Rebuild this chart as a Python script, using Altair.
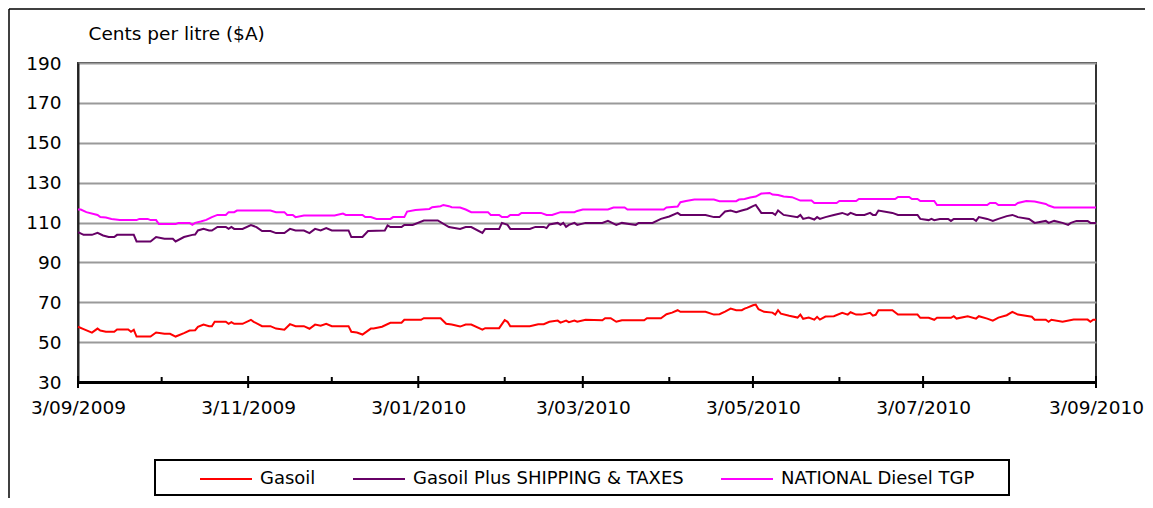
import altair as alt
import pandas as pd

START = "2009-09-03"
series_names = ["Gasoil", "Gasoil Plus SHIPPING & TAXES", "NATIONAL Diesel TGP"]
series_colors = ["#ff0000", "#660066", "#ff00ff"]

# day offsets from 3/09/2009 and values (cents per litre)
gasoil_day = [0,2,5,7,8,10,13,14,18,19,20,21,26,28,31,33,35,38,40,42,43,45,47,48,49,53,54,55,56,59,
              62,63,66,69,71,74,76,78,81,83,85,87,89,91,97,98,100,102,105,106,109,112,116,117,123,124,130,132,134,137,
              139,141,145,146,151,153,154,155,162,165,167,169,172,173,175,176,178,179,182,188,189,191,193,195,203,204,209,211,213,215,
              216,225,228,230,232,234,236,238,239,240,242,243,244,246,249,250,251,252,255,258,259,260,262,264,265,266,268,271,274,276,
              277,279,281,284,285,286,287,292,294,301,302,305,307,308,313,314,315,319,322,323,326,328,330,333,335,337,342,343,347,348,
              349,353,357,362,363,364,365]
gasoil_val = [57.7,56.5,54.8,56.8,55.8,55.2,55.2,56.3,56.3,55.2,56.2,52.8,52.8,54.8,54.2,54.2,52.8,54.5,55.8,56,
              57.7,58.8,58,58,60.2,60.2,59.2,60,59.2,59.2,61.2,60.2,58,58,56.8,56.2,59,58,58,56.7,
              58.8,58.2,59.2,58,58,55.2,54.8,53.8,56.8,56.8,57.7,59.7,59.7,61.2,61.2,62,62,59.2,58.8,57.8,
              58.8,58.8,56.3,57,57,61,60.2,58,58,59,59,60.2,60.8,59.8,60.8,60,60.8,60.2,61.2,61,
              62,62,60.2,61,61,62,62,64,64.8,66,65.2,65.2,63.8,64,65.3,66.8,66,66,66.8,67.3,
              68.5,68.8,66.5,65.2,64.8,63.8,66,64.3,63.2,62.3,63.8,61.7,62.3,61.3,62.7,61.3,62.8,63,64.7,63.8,
              65,63.8,63.8,64.7,63.3,63.7,66,66,63.8,63.8,62.2,62.2,61.2,62.2,62.2,63,61.8,63,61.8,63,
              61.8,60.8,62.3,63.5,65.2,63.8,62.7,61.2,61.2,60.2,61.2,60.2,61.3,61.3,60.2,61.2,61.2]

plus_day = [0,2,5,7,9,11,13,14,20,21,26,28,31,34,35,38,41,42,43,45,47,48,50,53,54,55,56,59,62,64,
            66,69,71,74,76,78,81,83,85,87,89,91,97,98,102,104,110,111,112,116,117,120,124,129,133,137,139,141,145,146,
            151,152,154,155,162,164,167,168,169,172,173,174,175,176,178,179,182,188,190,193,195,200,201,206,209,212,215,216,225,228,
            230,232,234,236,238,240,242,243,245,249,250,251,253,258,259,260,262,264,265,266,268,271,274,276,277,279,282,284,285,286,
            287,292,294,301,302,305,306,307,309,312,313,314,321,322,323,326,328,330,333,335,337,341,343,347,348,350,353,355,356,358,
            362,363,365]
plus_val = [105.2,103.8,103.8,104.8,103.5,102.7,102.7,103.8,103.8,100.5,100.5,102.7,101.8,101.8,100.5,102.7,103.8,104,106,106.8,
            106,106,107.8,107.8,106.8,107.8,106.8,106.8,108.7,107.7,105.7,105.7,104.7,104.7,106.8,106,106,104.7,106.8,106,
            107.2,106,106,102.7,102.7,105.7,106,108.5,107.7,107.7,108.8,108.8,111,111,107.7,106.8,107.7,107.7,104.8,106.8,
            106.8,109.8,108.8,106.8,106.8,107.8,107.8,107.2,109,109.8,108.8,109.8,107.8,108.8,109.8,108.8,109.8,109.8,110.8,108.8,
            109.8,108.8,109.8,109.8,111.8,113,114.8,113.8,113.8,112.7,112.7,115.5,116,115.2,116,116.8,118.2,118.8,114.8,114.8,
            113.8,116,113.8,112.7,113.8,111.8,112.5,111.5,112.7,111.8,112.7,113.8,114.8,113.8,114.8,113.8,113.8,114.8,113.8,113.8,
            116,114.8,113.8,113.8,111.8,111.2,111.8,111.2,111.8,111.8,110.8,111.8,111.8,110.8,112.7,111.8,110.8,111.8,113.2,113.8,
            112.7,111.8,109.8,110.8,109.8,110.8,109.8,108.8,109.8,110.8,110.8,109.8,109.8]

tgp_day = [0,1,3,7,8,10,12,15,21,22,25,26,28,29,35,36,40,41,42,44,46,48,50,53,54,56,57,69,71,74,
           75,77,78,81,92,95,96,102,103,105,107,112,113,117,118,121,126,127,130,131,133,134,137,139,141,147,148,151,152,154,
           155,158,159,166,168,170,173,178,179,181,190,192,196,197,210,211,215,216,218,221,228,230,236,237,239,241,243,245,248,249,
           251,253,256,259,263,264,272,273,279,280,293,294,298,299,301,302,307,308,326,327,329,330,336,337,340,343,347,348,350,365]
tgp_val = [116.5,116.5,115.2,113.8,112.7,112.5,111.8,111.2,111.2,111.8,111.8,111.2,111.2,109.2,109.2,109.8,109.8,108.8,109.8,110.5,
           111.3,112.7,113.8,113.8,115.2,115.2,116,116,115.2,115.2,113.8,113.8,112.7,113.5,113.5,114.5,113.8,113.8,112.7,112.7,
           111.8,111.8,112.7,112.7,115.5,116.3,116.8,117.7,118.2,118.8,118.2,117.7,117.5,116.5,115.2,115.2,113.8,113.8,112.7,112.7,
           113.8,113.8,114.8,114.8,113.8,113.8,115.2,115.2,115.8,116.5,116.5,117.5,117.5,116.5,116.5,117.5,118,120.2,120.8,121.5,
           121.5,120.7,120.7,121.5,121.8,122.5,123,124.5,124.8,124,123.8,123,122.7,121,121,119.8,119.8,120.8,120.8,121.8,
           121.8,122.8,122.8,121.8,121.8,120.8,120.8,118.8,118.8,119.8,119.8,118.8,118.8,119.8,120.8,120.5,119.3,118.5,117.5,117.5]

y_ticks = [30, 50, 70, 90, 110, 130, 150, 170, 190]
major_tick_dates = ["2009-09-03", "2009-11-03", "2010-01-03", "2010-03-03", "2010-05-03", "2010-07-03", "2010-09-03"]
minor_tick_dates = ["2009-10-03", "2009-12-03", "2010-02-03", "2010-04-03", "2010-06-03", "2010-08-03"]

FONT = "DejaVu Sans"
FS = 18.5


def to_dates(days):
    return (pd.Timestamp(START) + pd.to_timedelta(days, unit="D")).strftime("%Y-%m-%d").tolist()


frames = []
for name, d, v in [(series_names[0], gasoil_day, gasoil_val),
                   (series_names[1], plus_day, plus_val),
                   (series_names[2], tgp_day, tgp_val)]:
    frames.append(pd.DataFrame({"date": to_dates(d), "value": v, "series": name}))
df = pd.concat(frames, ignore_index=True)


def dt(s):
    y, m, d = (int(p) for p in s.split("-"))
    return alt.DateTime(year=y, month=m, date=d, utc=True)


x_scale = alt.Scale(type="utc", domain=[dt(major_tick_dates[0]), dt(major_tick_dates[-1])])

lines = alt.Chart(df).mark_line(strokeWidth=2).encode(
    x=alt.X("date:T", scale=x_scale, title=None,
            axis=alt.Axis(values=[dt(s) for s in major_tick_dates],
                          labelExpr="utcFormat(datum.value, '%-d/%m/%Y')",
                          ticks=False, grid=False, domainColor="black", domainWidth=3,
                          labelFont=FONT, labelFontSize=FS, labelColor="black",
                          labelPadding=16, labelFlush=False, labelOverlap=False)),
    y=alt.Y("value:Q", scale=alt.Scale(domain=[30, 190], nice=False, zero=False),
            axis=alt.Axis(values=y_ticks, ticks=False, grid=True, gridColor="#9a9a9a", gridWidth=2,
                          domainColor="#222222", domainWidth=2,
                          labelFont=FONT, labelFontSize=FS, labelColor="black", labelPadding=17,
                          title="Cents per litre ($A)", titleAngle=0, titleX=10, titleY=-30,
                          titleAlign="left", titleBaseline="middle", titleFont=FONT,
                          titleFontSize=FS, titleFontWeight="normal", titleColor="black")),
    color=alt.Color("series:N", scale=alt.Scale(domain=series_names, range=series_colors),
                    legend=alt.Legend(orient="none", legendX=121, legendY=389, direction="horizontal",
                                      title=None, symbolType="stroke", symbolSize=2704,
                                      symbolStrokeWidth=2, labelFont=FONT, labelFontSize=18,
                                      labelColor="black", labelOffset=7, columnPadding=33,
                                      labelLimit=600, padding=0)),
    detail="series:N",
)

major = alt.Chart(pd.DataFrame({"date": major_tick_dates})).mark_rule(color="black", strokeWidth=2).encode(
    x=alt.X("date:T", scale=x_scale, title=None), y=alt.value(313), y2=alt.value(325))
minor = alt.Chart(pd.DataFrame({"date": minor_tick_dates})).mark_rule(color="black", strokeWidth=2).encode(
    x=alt.X("date:T", scale=x_scale, title=None), y=alt.value(314), y2=alt.value(319))

legend_box = alt.Chart(pd.DataFrame({"k": [0]})).mark_rect(fill="transparent", stroke="black", strokeWidth=2).encode(
    x=alt.value(77), x2=alt.value(931), y=alt.value(397), y2=alt.value(432))

frame_left = alt.Chart(pd.DataFrame({"k": [0]})).mark_rule(color="black", strokeWidth=1.5).encode(
    x=alt.value(-69), y=alt.value(-54), y2=alt.value(436))
frame_top = alt.Chart(pd.DataFrame({"k": [0]})).mark_rule(color="black", strokeWidth=1.5).encode(
    x=alt.value(-69), x2=alt.value(1067), y=alt.value(-54))

chart = alt.layer(lines, major, minor, legend_box, frame_left, frame_top).properties(
    width=1018, height=319,
    autosize=alt.AutoSizeParams(type="none"),
    padding={"left": 70, "top": 55, "right": 49, "bottom": 116},
).configure(font=FONT).configure_view(stroke="#333333", strokeWidth=2)

chart.save("out.html", embed_options={"renderer": "svg", "actions": False})
